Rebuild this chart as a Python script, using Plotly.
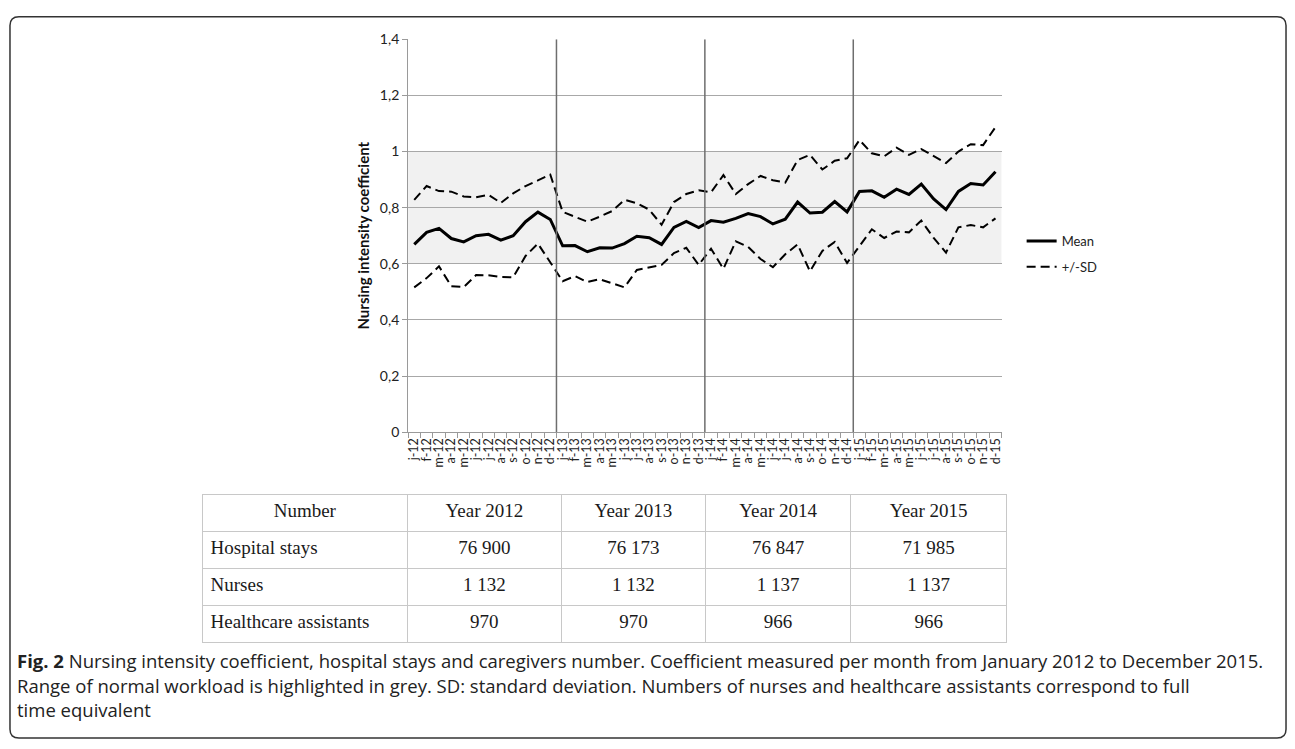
import plotly.graph_objects as go

# ---------------- data ----------------
months = ["j", "f", "m", "a", "m", "j", "j", "a", "s", "o", "n", "d"]
years = ["12", "13", "14", "15"]
tick_labels = [f"{m}-{y}" for y in years for m in months]

mean_vals = [
    0.669, 0.712, 0.726, 0.690, 0.678, 0.700, 0.705, 0.684, 0.700, 0.750, 0.784, 0.758,
    0.664, 0.665, 0.643, 0.657, 0.656, 0.672, 0.698, 0.693, 0.669, 0.730, 0.751, 0.729,
    0.754, 0.748, 0.762, 0.779, 0.768, 0.742, 0.759, 0.820, 0.781, 0.784, 0.822, 0.785,
    0.858, 0.860, 0.837, 0.866, 0.847, 0.884, 0.831, 0.793, 0.858, 0.886, 0.881, 0.928,
]
upper_vals = [
    0.828, 0.877, 0.859, 0.857, 0.840, 0.837, 0.846, 0.817, 0.851, 0.877, 0.897, 0.918,
    0.785, 0.768, 0.750, 0.768, 0.788, 0.828, 0.816, 0.793, 0.739, 0.820, 0.849, 0.862,
    0.855, 0.916, 0.849, 0.884, 0.913, 0.898, 0.889, 0.970, 0.988, 0.936, 0.967, 0.976,
    1.041, 0.994, 0.983, 1.014, 0.988, 1.009, 0.983, 0.959, 1.000, 1.026, 1.023, 1.087,
]
lower_vals = [
    0.516, 0.549, 0.591, 0.520, 0.517, 0.560, 0.559, 0.553, 0.552, 0.628, 0.672, 0.605,
    0.538, 0.556, 0.535, 0.545, 0.530, 0.516, 0.578, 0.588, 0.596, 0.638, 0.657, 0.596,
    0.654, 0.582, 0.680, 0.660, 0.617, 0.588, 0.634, 0.669, 0.573, 0.646, 0.678, 0.603,
    0.663, 0.723, 0.692, 0.715, 0.712, 0.754, 0.692, 0.640, 0.730, 0.738, 0.730, 0.762,
]
normal_range = [0.6, 1.0]
y_ticks = [0, 0.2, 0.4, 0.6, 0.8, 1.0, 1.2, 1.4]
y_tick_text = ["0", "0,2", "0,4", "0,6", "0,8", "1", "1,2", "1,4"]

table_header = ["Number", "Year 2012", "Year 2013", "Year 2014", "Year 2015"]
table_rows = ["Hospital stays", "Nurses", "Healthcare assistants"]
year_2012 = ["76 900", "1 132", "970"]
year_2013 = ["76 173", "1 132", "970"]
year_2014 = ["76 847", "1 137", "966"]
year_2015 = ["71 985", "1 137", "966"]

caption_lines = [
    "<b>Fig. 2</b> Nursing intensity coefficient, hospital stays and caregivers number. "
    "Coefficient measured per month from January 2012 to December 2015.",
    "Range of normal workload is highlighted in grey. SD: standard deviation. "
    "Numbers of nurses and healthcare assistants correspond to full",
    "time equivalent",
]

# ---------------- figure ----------------
W, H = 1295, 749
xs = list(range(len(tick_labels)))

def px_x(p):
    return p / W

def px_y(p):
    return 1 - p / H

fig = go.Figure()

fig.add_trace(go.Scatter(
    x=xs, y=mean_vals, mode="lines", name="Mean", legendgroup="mean",
    line=dict(color="black", width=3),
))
fig.add_trace(go.Scatter(
    x=xs, y=upper_vals, mode="lines", name="+/-SD", legendgroup="sd",
    line=dict(color="black", width=2, dash="9px,5px"),
))
fig.add_trace(go.Scatter(
    x=xs, y=lower_vals, mode="lines", name="+/-SD", legendgroup="sd",
    showlegend=False,
    line=dict(color="black", width=2, dash="9px,5px"),
))

fig.add_trace(go.Table(
    domain=dict(x=[px_x(201), px_x(1007)], y=[px_y(660), px_y(497)]),
    columnwidth=[205, 155, 144, 146, 156],
    header=dict(
        values=table_header,
        align="center",
        height=37,
        fill_color="white",
        line=dict(color="#c8c8c8", width=1),
        font=dict(family="Liberation Serif", size=19, color="#1a1a1a"),
    ),
    cells=dict(
        values=[table_rows, year_2012, year_2013, year_2014, year_2015],
        align=["left", "center", "center", "center", "center"],
        height=37,
        fill_color="white",
        line=dict(color="#c8c8c8", width=1),
        font=dict(family="Liberation Serif", size=19, color="#1a1a1a"),
    ),
))

shapes = []
# normal workload band
shapes.append(dict(type="rect", xref="x", yref="y", x0=-0.5, x1=len(xs) - 0.5,
                   y0=normal_range[0], y1=normal_range[1],
                   fillcolor="#f1f1f1", line=dict(width=0), layer="below"))
# year separators
for b in [11.5, 23.5, 35.5]:
    shapes.append(dict(type="line", xref="x", yref="y", x0=b, x1=b, y0=0, y1=1.4,
                       line=dict(color="#6e6e6e", width=1.5)))

# rounded outer frame
x0, x1 = px_x(8), px_x(1287)
y0, y1 = px_y(746), px_y(8)
rx, ry = 9 / W, 9 / H
path = (f"M {x0+rx},{y1} L {x1-rx},{y1} Q {x1},{y1} {x1},{y1-ry} "
        f"L {x1},{y0+ry} Q {x1},{y0} {x1-rx},{y0} "
        f"L {x0+rx},{y0} Q {x0},{y0} {x0},{y0+ry} "
        f"L {x0},{y1-ry} Q {x0},{y1} {x0+rx},{y1} Z")
shapes.append(dict(type="path", xref="paper", yref="paper", path=path,
                   line=dict(color="#333333", width=1.5)))

annotations = []
cap_y = [667, 692, 717]
for txt, yy in zip(caption_lines, cap_y):
    annotations.append(dict(
        text=txt, xref="paper", yref="paper", x=px_x(14), y=px_y(yy),
        xanchor="left", yanchor="middle", showarrow=False, borderpad=0,
        font=dict(family="Open Sans", size=18.5, color="#222222"),
    ))

fig.update_layout(
    width=W, height=H,
    margin=dict(l=0, r=0, t=0, b=0),
    paper_bgcolor="white",
    plot_bgcolor="white",
    font=dict(family="Lato", color="#222222"),
    shapes=shapes,
    annotations=annotations,
    showlegend=True,
    legend=dict(
        x=px_x(1022), y=px_y(222), xanchor="left", yanchor="top",
        font=dict(family="Lato", size=13, color="#222222"),
        bgcolor="rgba(0,0,0,0)", tracegroupgap=6, itemwidth=30,
    ),
    xaxis=dict(
        domain=[px_x(407), px_x(1002)],
        range=[-0.5, len(xs) - 0.5],
        tickmode="array", tickvals=xs, ticktext=tick_labels,
        tickangle=-90, ticks="",
        tickfont=dict(family="Lato", size=12.5, color="#222222"),
        showgrid=False, zeroline=False,
        showline=True, linecolor="#9a9a9a", linewidth=1,
        minor=dict(tickmode="array", tickvals=[i - 0.5 for i in range(len(xs) + 1)],
                   ticks="outside", ticklen=5, tickcolor="#9a9a9a", tickwidth=1,
                   showgrid=False),
        anchor="y",
    ),
    yaxis=dict(
        domain=[px_y(433), px_y(31)],
        range=[0, 1.4],
        tickmode="array", tickvals=y_ticks, ticktext=y_tick_text,
        tickfont=dict(family="Lato", size=14, color="#222222"),
        ticks="outside", ticklen=5, tickcolor="#9a9a9a",
        showgrid=True, gridcolor="#a8a8a8", gridwidth=1,
        zeroline=False,
        showline=True, linecolor="#9a9a9a", linewidth=1,
        title=dict(text="<b>Nursing intensity coefficient</b>",
                   font=dict(family="Lato", size=15, color="#111111"),
                   standoff=6),
        anchor="x",
    ),
)

fig.write_html(
    "out.html",
    config={"displayModeBar": False},
    post_script="document.body.style.margin='0px';document.body.style.overflow='hidden';",
)
